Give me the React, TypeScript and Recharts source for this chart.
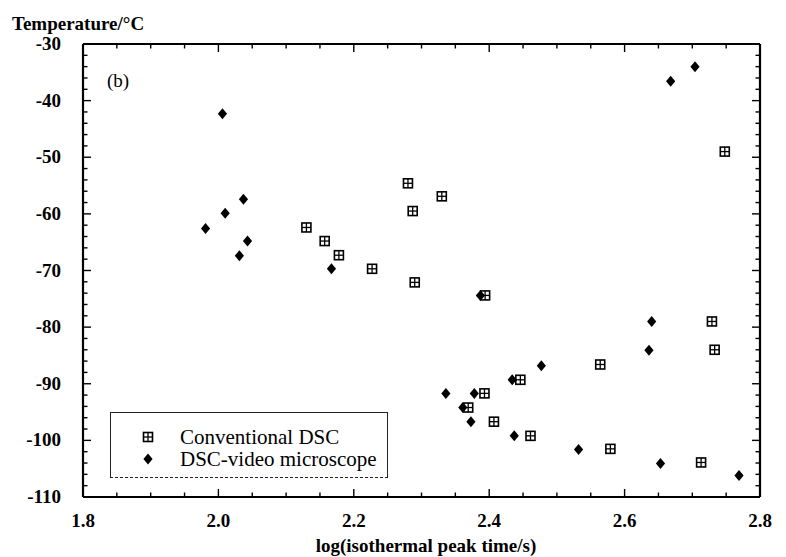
import React from "react";
import { ScatterChart, Scatter, XAxis, YAxis, Legend } from "recharts";

const conventionalX = [2.13, 2.157, 2.178, 2.227, 2.28, 2.33, 2.287, 2.29, 2.394, 2.729, 2.733, 2.564, 2.748, 2.446, 2.393, 2.369, 2.407, 2.461, 2.579, 2.713];
const conventionalY = [-62.4, -64.8, -67.3, -69.7, -54.6, -56.9, -59.5, -72.1, -74.4, -79.0, -84.0, -86.6, -49.0, -89.3, -91.7, -94.2, -96.7, -99.2, -101.5, -103.9];

const videoX = [1.981, 2.01, 2.037, 2.043, 2.031, 2.167, 2.006, 2.668, 2.704, 2.387, 2.64, 2.636, 2.477, 2.434, 2.378, 2.336, 2.361, 2.373, 2.437, 2.532, 2.653, 2.769];
const videoY = [-62.6, -59.9, -57.4, -64.8, -67.4, -69.7, -42.3, -36.6, -34.0, -74.4, -79.0, -84.1, -86.8, -89.3, -91.7, -91.7, -94.2, -96.7, -99.2, -101.6, -104.1, -106.2];

const xTicks = [1.8, 1.85, 1.9, 1.95, 2.0, 2.05, 2.1, 2.15, 2.2, 2.25, 2.3, 2.35, 2.4, 2.45, 2.5, 2.55, 2.6, 2.65, 2.7, 2.75, 2.8];
const yTicks = [-110, -108, -106, -104, -102, -100, -98, -96, -94, -92, -90, -88, -86, -84, -82, -80, -78, -76, -74, -72, -70, -68, -66, -64, -62, -60, -58, -56, -54, -52, -50, -48, -46, -44, -42, -40, -38, -36, -34, -32, -30];

const seriesNames = ["Conventional DSC", "DSC-video microscope"];

const conventionalData = conventionalX.map((x, i) => ({ x, y: conventionalY[i] }));
const videoData = videoX.map((x, i) => ({ x, y: videoY[i] }));

const FONT = '"Liberation Serif", "Times New Roman", serif';

const SquareCross = (props: any) => {
  const { cx, cy } = props;
  if (cx == null || cy == null) return null;
  const h = 4.5;
  return (
    <g>
      <rect x={cx - h} y={cy - h} width={2 * h} height={2 * h} fill="#fff" stroke="#000" strokeWidth={1.6} />
      <line x1={cx} y1={cy - h} x2={cx} y2={cy + h} stroke="#000" strokeWidth={1.3} />
      <line x1={cx - h} y1={cy} x2={cx + h} y2={cy} stroke="#000" strokeWidth={1.3} />
    </g>
  );
};

const Diamond = (props: any) => {
  const { cx, cy } = props;
  if (cx == null || cy == null) return null;
  return <polygon points={`${cx},${cy - 5.5} ${cx + 4.6},${cy} ${cx},${cy + 5.5} ${cx - 4.6},${cy}`} fill="#000" />;
};

const makeTick = (side: "bottom" | "top" | "left" | "right") => (props: any) => {
  const { x, y, payload } = props;
  const v = payload.value as number;
  const isX = side === "bottom" || side === "top";
  const major = isX ? Math.round(v * 100) % 20 === 0 : Math.round(v) % 10 === 0;
  const len = major ? 8 : 4.5;
  let x2 = x;
  let y2 = y;
  if (side === "bottom") y2 = y - len;
  else if (side === "top") y2 = y + len;
  else if (side === "left") x2 = x + len;
  else x2 = x - len;
  let label = null;
  if (major && side === "bottom") {
    label = (
      <text x={x} y={y + 30} textAnchor="middle" fontFamily={FONT} fontWeight="bold" fontSize={19} fill="#000">
        {v.toFixed(1)}
      </text>
    );
  } else if (major && side === "left") {
    label = (
      <text x={x - 22} y={y + 6} textAnchor="end" fontFamily={FONT} fontWeight="bold" fontSize={19} fill="#000">
        {String(v)}
      </text>
    );
  }
  return (
    <g>
      <path d={`M${x},${y}L${x2},${y2}`} stroke="#000" strokeWidth={1.4} fill="none" />
      {label}
    </g>
  );
};

const renderLegend = (props: any) => {
  const payload = props.payload || [];
  return (
    <div style={{ position: "relative", width: 276, height: 64, fontFamily: FONT }}>
      {payload.map((entry: any, i: number) => (
        <div
          key={i}
          style={{ position: "absolute", left: 0, top: i === 0 ? 13 : 35, height: 22, width: 276, display: "flex", alignItems: "center" }}
        >
          <svg width={60} height={22} style={{ display: "block" }}>
            {i === 0 ? <SquareCross cx={37} cy={11} /> : <Diamond cx={37} cy={11} />}
          </svg>
          <span style={{ marginLeft: 9, fontSize: 21, color: "#000", whiteSpace: "nowrap" }}>{entry.value}</span>
        </div>
      ))}
    </div>
  );
};

export default function App() {
  return (
    <div style={{ position: "absolute", left: 0, top: 0, width: 786, height: 557, background: "#fff", fontFamily: FONT }}>
      <ScatterChart width={786} height={557} margin={{ top: 43, right: 25, bottom: 0, left: 0 }}>
        <XAxis
          xAxisId={0}
          type="number"
          dataKey="x"
          domain={[1.8, 2.8]}
          ticks={xTicks}
          interval={0}
          height={60}
          tickSize={0}
          tickMargin={0}
          tickLine={false}
          tick={makeTick("bottom")}
          axisLine={{ stroke: "#000", strokeWidth: 2.2 }}
          allowDataOverflow
        />
        <XAxis
          xAxisId="top"
          orientation="top"
          type="number"
          dataKey="x"
          domain={[1.8, 2.8]}
          ticks={xTicks}
          interval={0}
          height={1}
          tickSize={0}
          tickMargin={0}
          tickLine={false}
          tick={makeTick("top")}
          axisLine={{ stroke: "#000", strokeWidth: 2.2 }}
          allowDataOverflow
        />
        <YAxis
          yAxisId={0}
          type="number"
          dataKey="y"
          domain={[-110, -30]}
          ticks={yTicks}
          interval={0}
          width={83}
          tickSize={0}
          tickMargin={0}
          tickLine={false}
          tick={makeTick("left")}
          axisLine={{ stroke: "#000", strokeWidth: 2.2 }}
          allowDataOverflow
          label={(p: any) => (
            <text x={12} y={30} fontFamily={FONT} fontWeight="bold" fontSize={19} fill="#000">
              Temperature/°C
            </text>
          )}
        />
        <YAxis
          yAxisId="right"
          orientation="right"
          type="number"
          dataKey="y"
          domain={[-110, -30]}
          ticks={yTicks}
          interval={0}
          width={1}
          tickSize={0}
          tickMargin={0}
          tickLine={false}
          tick={makeTick("right")}
          axisLine={{ stroke: "#000", strokeWidth: 2.2 }}
          allowDataOverflow
        />
        <Legend
          layout="vertical"
          align="center"
          verticalAlign="middle"
          content={renderLegend}
          wrapperStyle={{
            position: "absolute",
            left: 110,
            top: 412,
            width: 276,
            height: 64,
            borderTop: "1px solid #222",
            borderLeft: "1px solid #222",
            borderRight: "1px solid #222",
            borderBottom: "1px dashed #222",
            background: "#fff",
          }}
        />
        <Scatter name={seriesNames[0]} data={conventionalData} shape={SquareCross} isAnimationActive={false} />
        <Scatter name={seriesNames[1]} data={videoData} shape={Diamond} isAnimationActive={false} />
      </ScatterChart>
      <div style={{ position: "absolute", left: 107, top: 71, fontSize: 19, fontFamily: FONT, color: "#000", lineHeight: "20px" }}>(b)</div>
      <div
        style={{ position: "absolute", left: 0, width: 852, top: 535, textAlign: "center", fontSize: 19, fontWeight: "bold", fontFamily: FONT, color: "#000", lineHeight: "22px" }}
      >
        log(isothermal peak time/s)
      </div>
    </div>
  );
}
